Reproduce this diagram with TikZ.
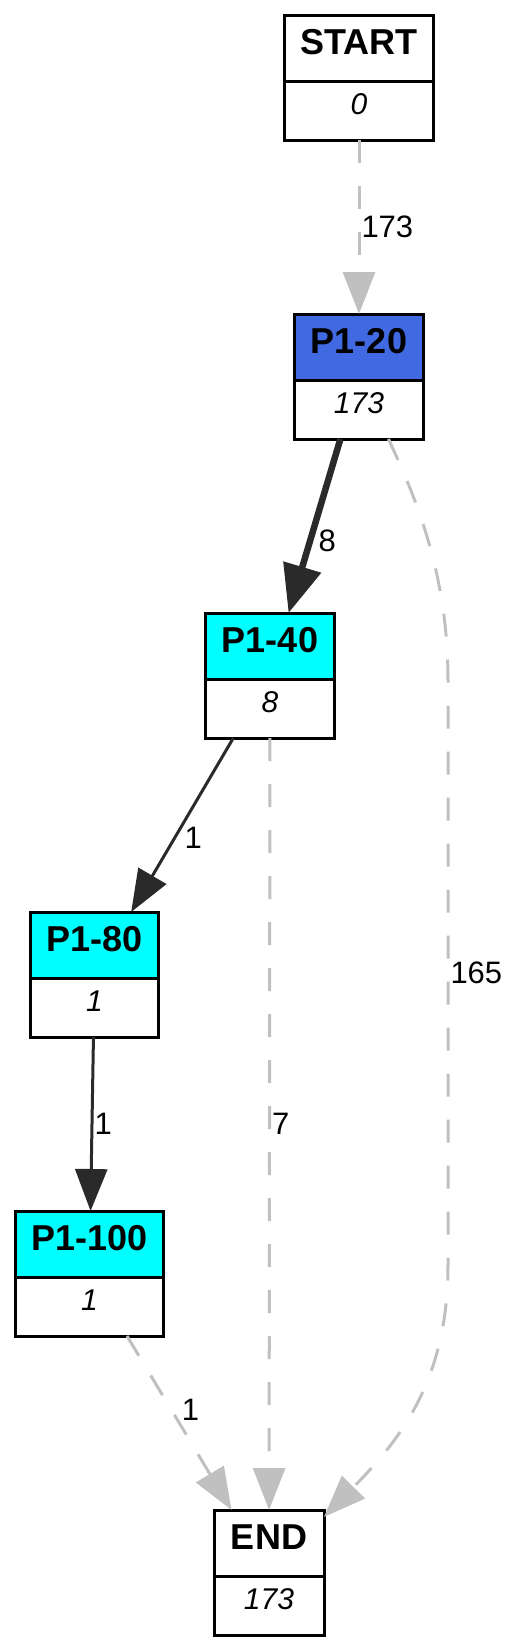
\documentclass[tikz,border=0pt]{standalone}
\usepackage{fontspec}
\setmainfont{Liberation Sans}
\usetikzlibrary{arrows.meta,shapes.multipart,positioning}
\definecolor{royal}{RGB}{65,105,225}
\definecolor{aqua}{RGB}{0,255,255}
\definecolor{edgedark}{RGB}{42,42,42}
\definecolor{edgegray}{RGB}{192,192,192}
\newcommand{\hd}[1]{{\fontsize{36}{40}\selectfont\bfseries\rule[-25.5pt]{0pt}{63pt}#1}}
\newcommand{\ct}[1]{{\fontsize{30}{36}\selectfont\itshape\rule[-24.5pt]{0pt}{56pt}#1}}

\begin{document}
\begin{tikzpicture}[->,>={Triangle[length=42pt,width=32pt]},auto,node distance=174pt,line width=3pt,font=\fontsize{31}{36}\selectfont]
 \tikzstyle{box}=[rectangle split,rectangle split parts=2,draw=black,inner xsep=16pt,inner ysep=0pt,outer sep=0pt,minimum width=110pt]
 \tikzstyle{hot}=[box,rectangle split part fill={royal,white}]
 \tikzstyle{warm}=[box,rectangle split part fill={aqua,white}]
 \tikzstyle{lbl}=[text=black,inner sep=1pt]
 \tikzstyle{skip}=[color=edgegray,dash pattern=on 23pt off 23pt]
 \tikzstyle{hit}=[color=edgedark]
 \tikzstyle{heavy}=[color=edgedark,line width=6.5pt,-{Triangle[length=48pt,width=38pt]}]

   \useasboundingbox (0,0) rectangle (518pt,-1650pt);

   \node[box,anchor=north] (start) at (359pt,-15pt) {\hd{START}\nodepart{two}\ct{0}};
   \node[hot] (p20) [below=of start] {\hd{P1-20}\nodepart{two}\ct{173}};
   \node[warm] (p40) [below=of p20,xshift=-89pt] {\hd{P1-40}\nodepart{two}\ct{8}};
   \node[warm] (p80) [below=of p40,xshift=-175.5pt] {\hd{P1-80}\nodepart{two}\ct{1}};
   \node[warm] (p100) [below=of p80,xshift=-5pt] {\hd{P1-100}\nodepart{two}\ct{1}};
   \node[box] (end) [below=of p100,xshift=179.5pt] {\hd{END}\nodepart{two}\ct{173}};

   \path
   (start) edge[skip] node[lbl] {173} (p20)
   (p20) edge[heavy] node[lbl] {8} (p40)
   (p40) edge[hit] node[lbl] {1} (p80)
   (p40) edge[skip] node[lbl] {7} (end)
   (p80) edge[hit] node[lbl] {1} (p100)
   (p100) edge[skip] node[lbl] {1} (end);

   \draw[skip] (p20) .. controls (420pt,-506pt) and (448pt,-580pt) .. (448pt,-680pt)
     -- node[lbl] {165} (448pt,-1265pt)
     .. controls (448pt,-1380pt) and (400pt,-1440pt) .. (end);

\end{tikzpicture}
\end{document}
